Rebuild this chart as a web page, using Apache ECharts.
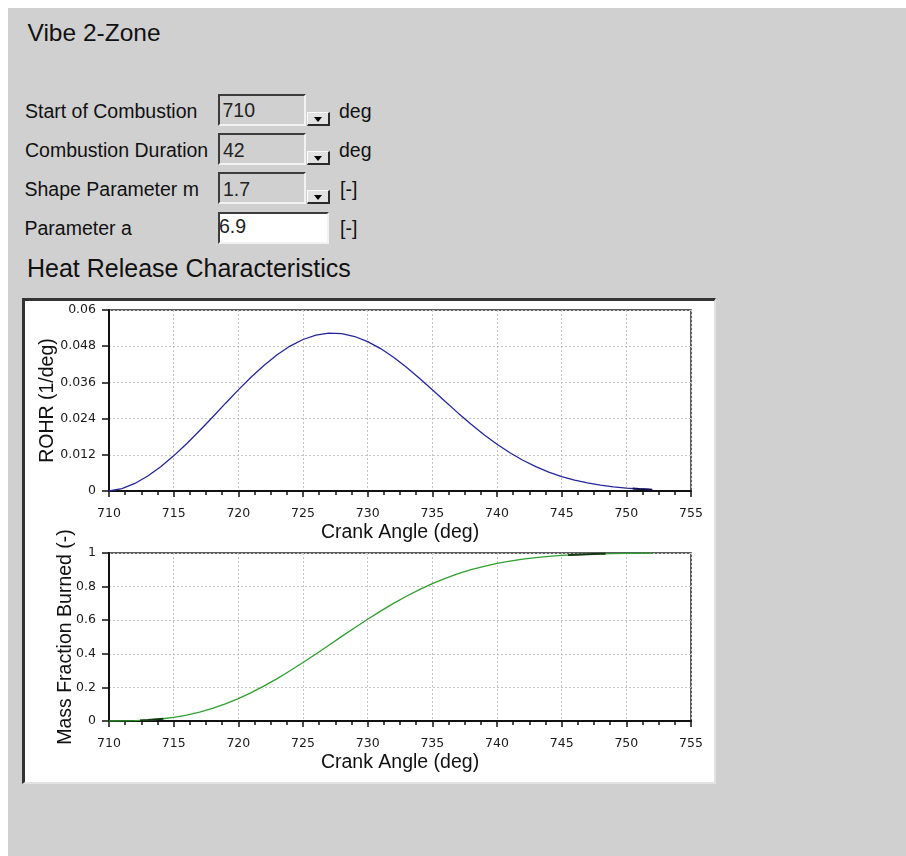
<!DOCTYPE html>
<html>
<head>
<meta charset="utf-8">
<title>Vibe 2-Zone</title>
<script src="https://cdn.jsdelivr.net/npm/echarts@6/dist/echarts.min.js"></script>
<style>
  html, body { margin: 0; padding: 0; background: #ffffff; }
  body { width: 906px; height: 856px; position: relative; overflow: hidden;
         font-family: "Liberation Sans", Arial, sans-serif; color: #111; }
  #page { position: absolute; left: 8px; top: 8px; right: 0; bottom: 0; background: #d0d0d0; }
  .t { position: absolute; white-space: nowrap; line-height: 1; }
  .lbl { font-size: 19.5px; }
  .box { position: absolute; box-sizing: border-box; height: 32px;
         border-top: 2px solid #3c3c3c; border-left: 2px solid #3c3c3c;
         border-bottom: 2px solid #f2f2f2; border-right: 2px solid #f2f2f2; background: #d0d0d0; }
  .box.edit { background: #ffffff; }
  .btn { position: absolute; box-sizing: border-box; width: 23px; height: 14px; background: #e2e2e2;
         border-top: 1px solid #fafafa; border-left: 1px solid #fafafa;
         border-bottom: 2px solid #2a2a2a; border-right: 2px solid #2a2a2a; }
  .btn::after { content: ""; position: absolute; left: 6px; top: 4px; width: 0; height: 0;
         border-left: 4px solid transparent; border-right: 4px solid transparent; border-top: 5px solid #000; }
  #panel { position: absolute; left: 22px; top: 298px; width: 694px; height: 486px; box-sizing: border-box;
           background: #ffffff; border-top: 3px solid #333; border-left: 3px solid #333;
           border-right: 2px solid #e2e2e2; border-bottom: 2px solid #e2e2e2; }
  #chart { position: absolute; left: 0; top: 0; width: 906px; height: 856px; }
</style>
</head>
<body>
<div id="page"></div>

<div class="t" style="left:27.5px; top:21px; font-size:24.5px;">Vibe 2-Zone</div>

<div class="t lbl" style="left:25px; top:101.8px;">Start of Combustion</div>
<div class="t lbl" style="left:25px; top:140.8px;">Combustion Duration</div>
<div class="t lbl" style="left:24.5px; top:179.5px;">Shape Parameter m</div>
<div class="t lbl" style="left:24.5px; top:218.5px;">Parameter a</div>

<div class="box" style="left:218px; top:94px; width:88px;"></div>
<div class="box" style="left:218px; top:133px; width:88px;"></div>
<div class="box" style="left:218px; top:172px; width:88px;"></div>
<div class="box edit" style="left:218px; top:212px; width:111px;"></div>

<div class="btn" style="left:307px; top:112px;"></div>
<div class="btn" style="left:307px; top:151px;"></div>
<div class="btn" style="left:307px; top:190px;"></div>

<div class="t lbl" style="left:222.5px; top:101.2px; color:#222;">710</div>
<div class="t lbl" style="left:223px; top:140.5px; color:#222;">42</div>
<div class="t lbl" style="left:223px; top:179.5px; color:#222;">1.7</div>
<div class="t lbl" style="left:219px; top:216.5px; color:#222;">6.9</div>

<div class="t lbl" style="left:339px; top:101.5px;">deg</div>
<div class="t lbl" style="left:339px; top:140.5px;">deg</div>
<div class="t lbl" style="left:340px; top:179.5px;">[-]</div>
<div class="t lbl" style="left:340px; top:218.5px;">[-]</div>

<div class="t" style="left:27px; top:255.5px; font-size:25px;">Heat Release Characteristics</div>

<div id="panel"></div>
<div id="chart"></div>

<script>
// Crank angle samples (deg)
const crankAngle = [
  710, 711, 712, 713, 714, 715, 716, 717, 718, 719,
  720, 721, 722, 723, 724, 725, 726, 727, 728, 729,
  730, 731, 732, 733, 734, 735, 736, 737, 738, 739,
  740, 741, 742, 743, 744, 745, 746, 747, 748, 749,
  750, 751, 752
];

// Rate of heat release (1/deg)
const rohr = [
  0, 0.00077, 0.00250, 0.00497, 0.00805, 0.01165, 0.01566, 0.01997, 0.02447, 0.02903,
  0.03351, 0.03779, 0.04171, 0.04516, 0.04804, 0.05022, 0.05166, 0.05231, 0.05215, 0.05121,
  0.04954, 0.04721, 0.04433, 0.04101, 0.03736, 0.03354, 0.02965, 0.02581, 0.02212, 0.01867,
  0.01551, 0.01267, 0.01019, 0.00806, 0.00627, 0.00479, 0.00360, 0.00266, 0.00193, 0.00138,
  0.00096, 0.00066, 0.00045
];

// Mass fraction burned (-)
const massFractionBurned = [
  0, 0.0003, 0.0019, 0.0055, 0.0120, 0.0218, 0.0354, 0.0532, 0.0754, 0.1022,
  0.1335, 0.1691, 0.2089, 0.2524, 0.2991, 0.3482, 0.3992, 0.4512, 0.5036, 0.5554,
  0.6058, 0.6542, 0.7000, 0.7427, 0.7819, 0.8174, 0.8490, 0.8767, 0.9007, 0.9210,
  0.9381, 0.9521, 0.9635, 0.9726, 0.9798, 0.9853, 0.9894, 0.9926, 0.9948, 0.9965,
  0.9976, 0.9984, 0.9990
];

// Short dark marker segments drawn over the curves
const rohrMarkAngle = [750.5, 751, 752];
const rohrMarkValue = [0.0008, 0.00066, 0.00045];
const mfbStartMarkAngle = [712.4, 713, 714.2];
const mfbStartMarkValue = [0.0035, 0.0055, 0.0135];
const mfbEndMarkAngle = [745.5, 746, 747, 748, 748.4];
const mfbEndMarkValue = [0.9875, 0.9894, 0.9926, 0.9948, 0.9955];

// Axis tick labels
const angleTicks = ['710', '715', '720', '725', '730', '735', '740', '745', '750', '755'];
const rohrTicks = ['0', '0.012', '0.024', '0.036', '0.048', '0.06'];
const mfbTicks = ['0', '0.2', '0.4', '0.6', '0.8', '1'];

const pairs = (xs, ys) => xs.map((x, i) => [x, ys[i]]);

const tickFont = { fontFamily: 'DejaVu Sans', fontSize: 12.5, color: '#1a1a1a' };
const nameFont = { fontFamily: 'Liberation Sans', fontSize: 19.5, color: '#111' };

function xAxisFor(gridIndex) {
  return {
    type: 'value', gridIndex: gridIndex, min: 710, max: 755, interval: 5,
    name: 'Crank Angle (deg)', nameLocation: 'middle', nameGap: 32, nameTextStyle: nameFont,
    nameMoveOverlap: false,
    axisLine: { show: true, onZero: false, lineStyle: { color: '#111', width: 2 } },
    axisTick: { show: true, length: 6, lineStyle: { color: '#111', width: 1.5 } },
    minorTick: { show: true, splitNumber: 4, length: 4, lineStyle: { color: '#111', width: 1.5 } },
    axisLabel: {
      margin: 16, ...tickFont,
      formatter: v => angleTicks[Math.round((v - 710) / 5)]
    },
    splitLine: { show: true, lineStyle: { color: '#c4c4c4', type: [2, 2], width: 1 } }
  };
}

function yAxisFor(gridIndex, name, max, interval, ticks, gap) {
  return {
    type: 'value', gridIndex: gridIndex, min: 0, max: max, interval: interval,
    name: name, nameLocation: 'middle', nameGap: gap, nameTextStyle: nameFont,
    nameMoveOverlap: false,
    axisLine: { show: true, onZero: false, lineStyle: { color: '#111', width: 2 } },
    axisTick: { show: true, length: 7, lineStyle: { color: '#111', width: 1.5 } },
    axisLabel: {
      margin: 13, ...tickFont,
      formatter: v => ticks[Math.round(v / interval)]
    },
    splitLine: { show: true, lineStyle: { color: '#c4c4c4', type: [2, 2], width: 1 } }
  };
}

const chart = echarts.init(document.getElementById('chart'), null, { renderer: 'canvas' });

chart.setOption({
  animation: false,
  backgroundColor: 'transparent',
  grid: [
    { left: 109, top: 310, width: 582, height: 181, show: true, borderColor: '#2a2a2a', borderWidth: 1.5, backgroundColor: 'transparent' },
    { left: 109, top: 553, width: 582, height: 168, show: true, borderColor: '#2a2a2a', borderWidth: 1.5, backgroundColor: 'transparent' }
  ],
  xAxis: [xAxisFor(0), xAxisFor(1)],
  yAxis: [
    yAxisFor(0, 'ROHR (1/deg)', 0.06, 0.012, rohrTicks, 51),
    yAxisFor(1, 'Mass Fraction Burned (-)', 1, 0.2, mfbTicks, 33)
  ],
  series: [
    {
      type: 'line', xAxisIndex: 0, yAxisIndex: 0, data: pairs(crankAngle, rohr),
      showSymbol: false, smooth: false, lineStyle: { color: '#25259c', width: 1.3 }
    },
    {
      type: 'line', xAxisIndex: 0, yAxisIndex: 0, data: pairs(rohrMarkAngle, rohrMarkValue),
      showSymbol: false, lineStyle: { color: '#10104a', width: 2 }
    },
    {
      type: 'line', xAxisIndex: 1, yAxisIndex: 1, data: pairs(crankAngle, massFractionBurned),
      showSymbol: false, smooth: false, lineStyle: { color: '#2f9f2f', width: 1.3 }
    },
    {
      type: 'line', xAxisIndex: 1, yAxisIndex: 1, data: pairs(mfbStartMarkAngle, mfbStartMarkValue),
      showSymbol: false, lineStyle: { color: '#143814', width: 2 }
    },
    {
      type: 'line', xAxisIndex: 1, yAxisIndex: 1, data: pairs(mfbEndMarkAngle, mfbEndMarkValue),
      showSymbol: false, lineStyle: { color: '#143814', width: 2 }
    }
  ]
});
</script>
</body>
</html>
